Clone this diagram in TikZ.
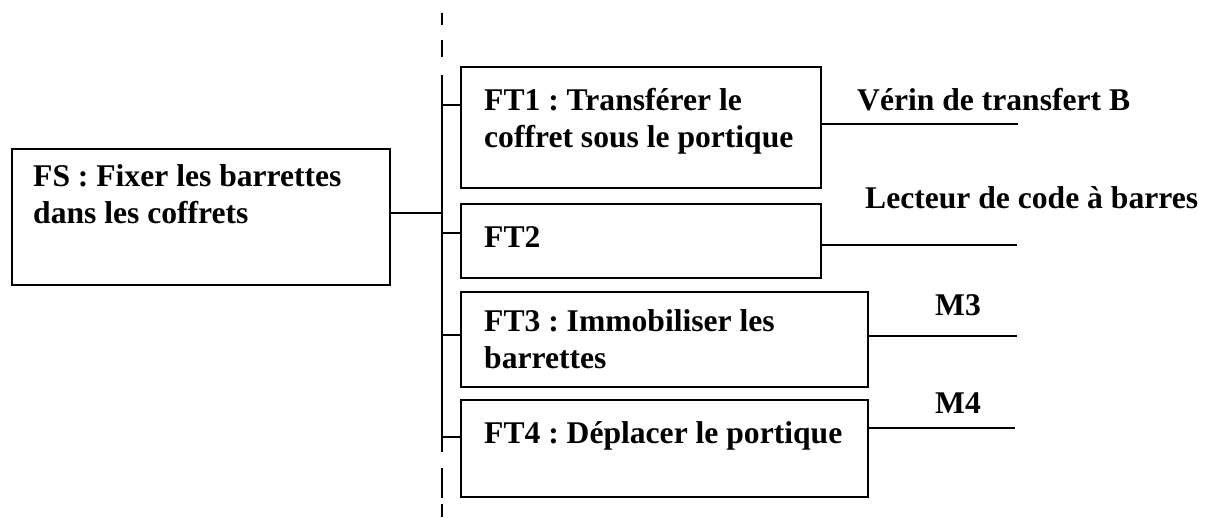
\documentclass[tikz,border=0pt]{standalone}
\usepackage{fontspec}
\setmainfont{Liberation Serif}
\frenchspacing
\begin{document}
\begin{tikzpicture}[x=1pt,y=-1pt,
  box/.style={draw, rectangle, line width=2.3pt, inner sep=0pt},
  conn/.style={line width=1.2pt},
  txt/.style={anchor=base west, inner sep=0pt, align=left, font=\fontsize{31.6}{36.5}\selectfont\bfseries},
  lbl/.style={anchor=base west, inner sep=0pt, font=\fontsize{31.6}{36.5}\selectfont\bfseries}]
\useasboundingbox[fill=white] (0,0) rectangle (1205,517);
% boxes
\node[box, minimum width=378pt, minimum height=136pt] (fs) at (201,217) {};
\node[box, minimum width=360pt, minimum height=121pt] (ft1) at (641,127.5) {};
\node[box, minimum width=360pt, minimum height=74pt] (ft2) at (641,241) {};
\node[box, minimum width=407pt, minimum height=95pt] (ft3) at (664.5,339.5) {};
\node[box, minimum width=407pt, minimum height=97pt] (ft4) at (664.5,448.5) {};
% texts (anchor = baseline of the last line)
\node[txt] (tfs) at (33,223) {FS : Fixer les barrettes\\dans les coffrets};
\node[txt] (tft1) at (484,147) {FT1 : Transférer le\\coffret sous le portique};
\node[txt] (tft2) at (484,247) {FT2};
\node[txt] (tft3) at (484,368) {FT3 : Immobiliser les\\barrettes};
\node[txt] (tft4) at (484,443) {FT4 : Déplacer le portique};
% spine
\coordinate (s0) at (442,13); \coordinate (s1) at (442,25);
\coordinate (s2) at (442,40); \coordinate (s3) at (442,57);
\coordinate (s4) at (442,75); \coordinate (s5) at (442,452);
\coordinate (s6) at (442,468); \coordinate (s7) at (442,498);
\coordinate (s8) at (442,504); \coordinate (s9) at (442,517);
\draw[conn] (s0) -- (s1) (s2) -- (s3) (s4) -- (s5) (s6) -- (s7) (s8) -- (s9);
% branch points
\coordinate (b0) at (442,213);
\coordinate (b1) at (442,105);
\coordinate (b2) at (442,233);
\coordinate (b3) at (442,335);
\coordinate (b4) at (442,437);
\draw[conn] (b0 -| fs.east) -- (b0);
\draw[conn] (b1) -- (b1 -| ft1.west);
\draw[conn] (b2) -- (b2 -| ft2.west);
\draw[conn] (b3) -- (b3 -| ft3.west);
\draw[conn] (b4) -- (b4 -| ft4.west);
% right connectors
\coordinate (e1) at (1018,124);
\coordinate (e2) at (1017,245);
\coordinate (e3) at (1017,336);
\coordinate (e4) at (1015,428);
\draw[conn] (e1 -| ft1.east) -- (e1);
\draw[conn] (e2 -| ft2.east) -- (e2);
\draw[conn] (e3 -| ft3.east) -- (e3);
\draw[conn] (e4 -| ft4.east) -- (e4);
% labels
\node[lbl] (l1) at (857,110) {Vérin de transfert B};
\node[lbl] (l2) at (865,208) {Lecteur de code à barres};
\node[lbl] (l3) at (935,315) {M3};
\node[lbl] (l4) at (935,413) {M4};
\end{tikzpicture}
\end{document}
